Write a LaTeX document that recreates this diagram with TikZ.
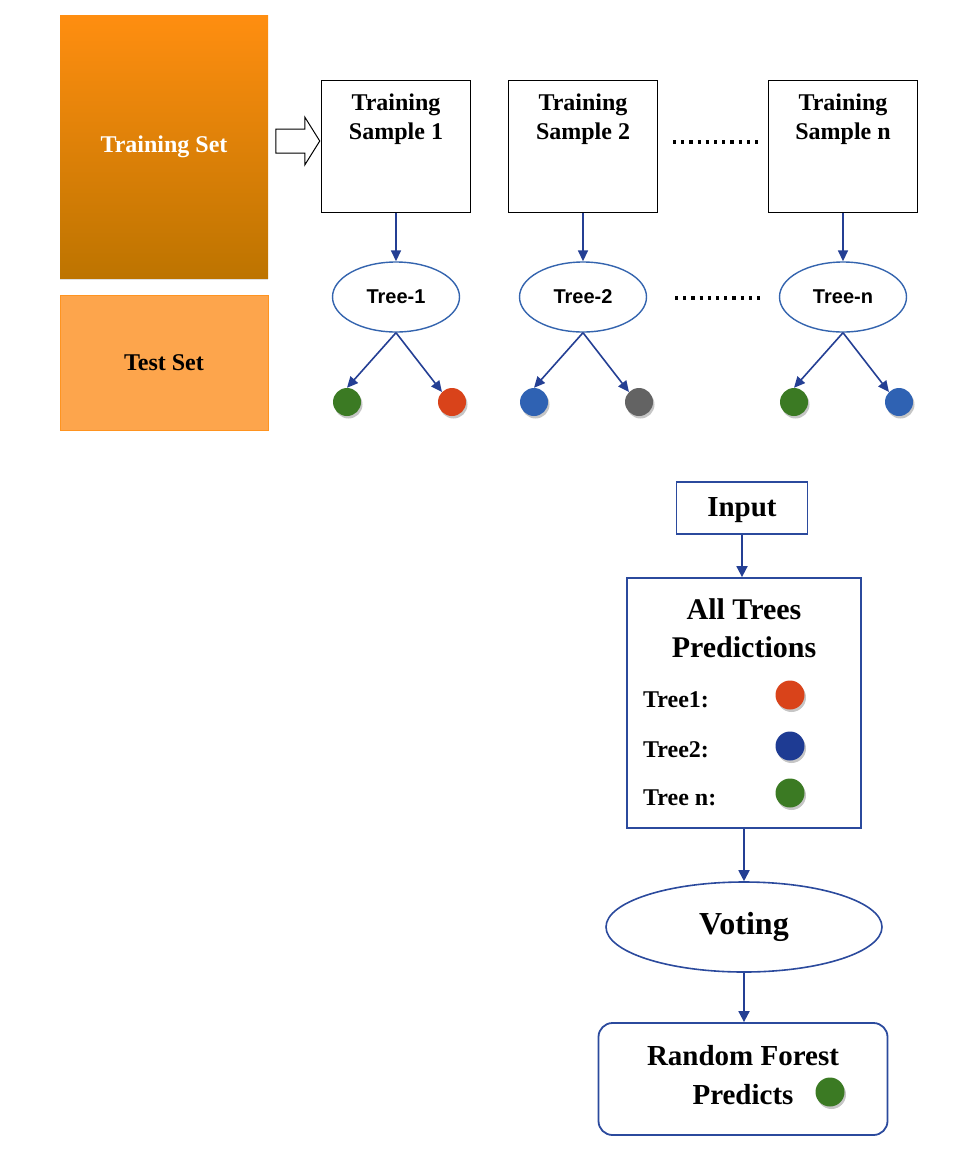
\documentclass[tikz,border=0pt]{standalone}
\usepackage{fontspec}
\setmainfont{Liberation Serif}
\setsansfont{Liberation Sans}
\usepackage{tikz}
\usetikzlibrary{shapes.geometric,shapes.arrows,arrows.meta,positioning,shadows,calc}
\definecolor{setorange}{HTML}{FF8E10}
\definecolor{setmid}{HTML}{F98A08}
\definecolor{setbrown}{HTML}{BD7400}
\definecolor{testorange}{HTML}{FDA54C}
\definecolor{testedge}{HTML}{FF9420}
\definecolor{arrowblue}{HTML}{243F94}
\definecolor{treeblue}{HTML}{3464AE}
\definecolor{flowblue}{HTML}{2B4A9D}
\definecolor{leafgreen}{HTML}{3B7A23}
\definecolor{leafred}{HTML}{D9431A}
\definecolor{leafblue}{HTML}{2F62B3}
\definecolor{leafgray}{HTML}{636363}
\definecolor{leafnavy}{HTML}{1E3B93}
\tikzset{
  setbox/.style={rectangle, minimum width=208pt, align=center, font=\fontsize{24}{28}\selectfont\bfseries},
  trainbox/.style={setbox, minimum height=263pt, top color=setorange, middle color=setmid, bottom color=setbrown, text=white, drop shadow={shadow xshift=0pt, shadow yshift=-2pt, opacity=.25}},
  testbox/.style={setbox, minimum height=135pt, fill=testorange, draw=testedge, line width=0.8pt},
  feedarrow/.style={single arrow, draw, fill=white, line width=1pt, inner xsep=0pt, inner ysep=11.5pt, minimum height=44pt, single arrow head extend=12pt, single arrow tip angle=116},
  samplebox/.style={rectangle, draw, line width=1pt, minimum width=149pt, minimum height=132pt},
  sampletext/.style={anchor=north, inner sep=0pt, yshift=-14pt, align=center, font=\fontsize{24}{29}\selectfont\bfseries},
  treenode/.style={ellipse, draw=treeblue, line width=1.4pt, minimum width=127pt, minimum height=70pt, inner sep=0pt, font=\sffamily\bfseries\fontsize{20}{22}\selectfont},
  leaf/.style={circle, minimum size=28pt, inner sep=0pt, drop shadow={shadow xshift=1.5pt, shadow yshift=-2.5pt, opacity=.45}},
  treearrow/.style={-{Triangle[length=11pt, width=10pt]}, draw=arrowblue, line width=1.6pt},
  flowarrow/.style={-{Triangle[length=11pt, width=11pt]}, draw=arrowblue, line width=1.8pt},
  gapdots/.style={line width=3.2pt, dash pattern=on 3.2pt off 5pt},
  flowbox/.style={rectangle, draw=flowblue, line width=1.8pt},
  flowtext/.style={inner sep=0pt, align=center, font=\fontsize{29}{39}\selectfont\bfseries},
  predlabel/.style={anchor=base west, inner sep=0pt, font=\fontsize{24}{28}\selectfont\bfseries},
}

\begin{document}
\begin{tikzpicture}[x=1pt, y=-1pt]
  \useasboundingbox (0,0) rectangle (975,1171);

  % Data sets
  \node[trainbox] (trainset) at (164,146.5) {Training Set};
  \node[testbox] (testset) at (164,362.5) {Test Set};
  \node[feedarrow] (feed) at (294,141) {};

  % Samples, trees and leaves
  \foreach \n/\x/\la/\lb in {1/396/leafgreen/leafred, 2/583/leafblue/leafgray, n/843/leafgreen/leafblue} {
    \node[samplebox] (s\n) at (\x,146) {};
    \node[sampletext] (st\n) at (s\n.north) {Training\\Sample \n};
    \node[treenode] (t\n) at (\x,297) {Tree-\n};
    \node[leaf, fill=\la] (a\n) at (\x-49,402) {};
    \node[leaf, fill=\lb] (b\n) at (\x+56,402) {};
    \draw[treearrow] (s\n) -- (t\n);
    \draw[treearrow] (t\n.south) -- (a\n.north);
    \draw[treearrow] (t\n.south) -- (b\n.north west);
  }

  % Gaps between sample 2 and sample n
  \draw[gapdots] (673,142) -- (758,142);
  \draw[gapdots] (675,298) -- (760,298);

  % Prediction flow
  \node[flowbox, flowtext, minimum width=131pt, minimum height=52pt, text depth=2pt] (input) at (742,508) {Input};
  \node[flowbox, minimum width=234pt, minimum height=250pt] (preds) at (744,703) {};
  \node[flowtext, anchor=north, font=\fontsize{30}{38}\selectfont\bfseries] (predtitle) at (744,598) {All Trees\\Predictions};
  \node[predlabel] (pl1) at (643,707) {Tree1:};
  \node[predlabel] (pl2) at (643,757) {Tree2:};
  \node[predlabel] (pl3) at (643,805) {Tree n:};
  \node[leaf, fill=leafred, minimum size=29pt] (pc1) at (790,695) {};
  \node[leaf, fill=leafnavy, minimum size=29pt] (pc2) at (790,746) {};
  \node[leaf, fill=leafgreen, minimum size=29pt] (pc3) at (790,793) {};
  \node[ellipse, draw=flowblue, line width=1.6pt, minimum width=276pt, minimum height=90pt, inner sep=0pt, flowtext, font=\fontsize{32}{36}\selectfont\bfseries] (vote) at (744,927) {Voting};
  \node[flowbox, rounded corners=14pt, minimum width=289pt, minimum height=112pt] (result) at (743,1079) {};
  \node[flowtext, anchor=north] (resulttext) at (743,1045) {Random Forest\\Predicts};
  \node[leaf, fill=leafgreen, minimum size=29pt] (rc) at (830,1092) {};

  \draw[flowarrow] (input.south) -- (input.south |- preds.north);
  \draw[flowarrow] (preds.south) -- (preds.south |- vote.north);
  \draw[flowarrow] (vote.south) -- (vote.south |- result.north);

\end{tikzpicture}
\end{document}
